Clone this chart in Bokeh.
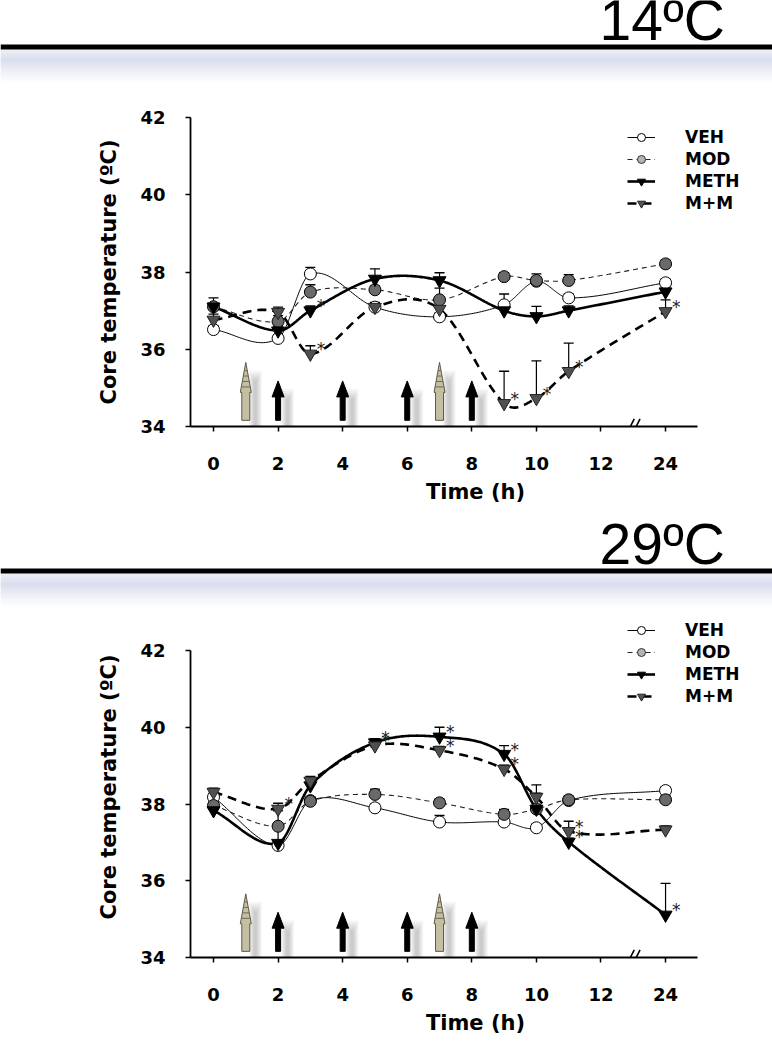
import numpy as np
from bokeh.plotting import figure
from bokeh.layouts import column, row
from bokeh.models import FixedTicker, Legend, LegendItem, Arrow
from bokeh.core.properties import value
from bokeh.embed import file_html
from bokeh.resources import INLINE

# ---------------- data ----------------
times = [0, 2, 3, 5, 7, 9, 10, 11, 24]
tick_times = [0, 2, 4, 6, 8, 10, 12, 24]
inj_tan = [1, 7]          # light arrows
inj_black = [2, 4, 6, 8]  # dark arrows

# 14 ºC
veh_14 = [36.51, 36.28, 37.95, 37.09, 36.84, 37.15, 37.76, 37.33, 37.72]
mod_14 = [37.10, 36.72, 37.48, 37.54, 37.28, 37.88, 37.78, 37.78, 38.21]
meth_14 = [37.10, 36.48, 37.00, 37.82, 37.78, 37.00, 36.85, 37.00, 37.49]
mm_14 = [36.76, 36.96, 35.88, 37.09, 37.04, 34.60, 34.73, 35.43, 36.98]
veh_14_err = [0.10, 0.10, 0.17, 0.10, 0.10, 0.28, 0.10, 0.10, 0.10]
mod_14_err = [0.10, 0.15, 0.19, 0.10, 0.30, 0.10, 0.17, 0.15, 0.10]
meth_14_err = [0.23, 0.12, 0.12, 0.26, 0.20, 0.12, 0.26, 0.12, 0.12]
mm_14_err = [0.15, 0.13, 0.21, 0.12, 0.20, 0.83, 0.97, 0.73, 0.30]
sig_meth_14 = [3]
sig_mm_14 = [3, 9, 10, 11, 24]

# 29 ºC
veh_29 = [38.18, 36.92, 38.09, 37.90, 37.53, 37.53, 37.38, 38.09, 38.35]
mod_29 = [37.96, 37.42, 38.07, 38.25, 38.03, 37.73, 37.87, 38.11, 38.11]
meth_29 = [37.83, 36.98, 38.48, 39.60, 39.75, 39.30, 37.87, 37.01, 35.11]
mm_29 = [38.31, 37.87, 38.60, 39.52, 39.40, 38.91, 38.18, 37.29, 37.33]
veh_29_err = [0.10, 0.08, 0.10, 0.10, 0.17, 0.10, 0.10, 0.10, 0.10]
mod_29_err = [0.10, 0.40, 0.10, 0.14, 0.10, 0.13, 0.10, 0.10, 0.10]
meth_29_err = [0.10, 0.45, 0.15, 0.10, 0.25, 0.22, 0.63, 0.10, 0.82]
mm_29_err = [0.10, 0.15, 0.12, 0.08, 0.10, 0.10, 0.10, 0.26, 0.10]
sig_meth_29 = [5, 7, 9, 11, 24]
sig_mm_29 = [2, 5, 7, 9, 11]

series_names = ["VEH", "MOD", "METH", "M+M"]

# ---------------- helpers ----------------
W = 772
FRAME_L = 190
FRAME_R = 12
FRAME_W = W - FRAME_L - FRAME_R
PX_PER_H = 32.29
X0 = -23 / PX_PER_H
X1 = X0 + FRAME_W / PX_PER_H
X_AXIS_END = 14.99
FONT = "DejaVu Sans"
ROW_H = 20
ROW_GAP = 2
HEAD_FS = 57


def axpos(t):
    # broken time axis: 24 h is drawn two ticks after 12 h
    return t if t <= 12 else 14


def smooth(xs, ys, n=40):
    # cardinal (Catmull-Rom type) Hermite curve through the points
    xs = np.asarray(xs, float)
    ys = np.asarray(ys, float)
    k = len(xs)
    m = np.zeros(k)
    m[0] = (ys[1] - ys[0]) / (xs[1] - xs[0])
    m[-1] = (ys[-1] - ys[-2]) / (xs[-1] - xs[-2])
    for i in range(1, k - 1):
        m[i] = (ys[i + 1] - ys[i - 1]) / (xs[i + 1] - xs[i - 1])
    ox, oy = [], []
    for i in range(k - 1):
        hh = xs[i + 1] - xs[i]
        t = np.linspace(0, 1, n, endpoint=(i == k - 2))
        h00 = 2 * t ** 3 - 3 * t ** 2 + 1
        h10 = t ** 3 - 2 * t ** 2 + t
        h01 = -2 * t ** 3 + 3 * t ** 2
        h11 = t ** 3 - t ** 2
        y = h00 * ys[i] + h10 * hh * m[i] + h01 * ys[i + 1] + h11 * hh * m[i + 1]
        ox.extend((xs[i] + t * hh).tolist())
        oy.extend(y.tolist())
    return ox, oy


def make_header(h, label, base_from_top):
    p = figure(width=W, height=h, x_range=(0, W), y_range=(0, h),
               output_backend="svg", toolbar_location=None, min_border=0,
               x_axis_location=None, y_axis_location=None)
    p.grid.visible = False
    p.outline_line_color = None
    y_line_top = h - base_from_top
    band = 35
    base = np.array([0xCD, 0xD2, 0xE7], float)
    tops, bots, cols = [], [], []
    for i in range(band):
        t = i / (band - 1)
        if t < 0.3:
            a = 0.55 + 0.45 * t / 0.3
        else:
            a = 1.0 - (t - 0.3) / 0.7
        a = max(0.0, min(1.0, a)) ** 1.2
        c = 255 - (255 - base) * a
        cols.append("#%02x%02x%02x" % tuple(int(round(v)) for v in c))
        tops.append(y_line_top - 5 - i)
        bots.append(y_line_top - 5 - i - 1)
    p.quad(left=0, right=W, top=tops, bottom=bots, fill_color=cols, line_color=None)
    p.quad(left=[0], right=[W], top=[y_line_top], bottom=[y_line_top - 5],
           fill_color="black", line_color=None)
    # text anchor compensated for the renderer's baseline placement
    p.text(x=[599], y=[y_line_top + 0.43 * HEAD_FS], text=[label],
           text_font=value("Liberation Sans"), text_font_size=f"{HEAD_FS}px",
           text_baseline="alphabetic", text_align="left", text_color="black")
    return p


def draw_arrow(p, x, tip, base, shaft_px, head_w_px, head_len_px, fill, line, ppx, ppy):
    hw = shaft_px / 2 / ppx
    Hw = head_w_px / 2 / ppx
    hl = head_len_px / ppy
    xs = [x - hw, x - hw, x - Hw, x, x + Hw, x + hw, x + hw]
    ys = [base, tip - hl, tip - hl, tip, tip - hl, tip - hl, base]
    p.patch(xs, ys, fill_color=fill, line_color=line, line_width=1)
    return hl


def make_chart(h, frame_top_local, y42_local, y34_local, data, errs, sig_meth, sig_mm,
               legend_top_local):
    ppy = (y34_local - y42_local) / 8.0
    y_top = 42 + (y42_local - frame_top_local) / ppy
    frame_h = y34_local - frame_top_local
    bottom_b = h - y34_local
    p = figure(width=W, height=h, x_range=(X0, X1), y_range=(34, y_top),
               output_backend="svg", toolbar_location=None,
               min_border_left=FRAME_L, min_border_right=FRAME_R,
               min_border_top=frame_top_local, min_border_bottom=bottom_b)
    p.grid.visible = False
    p.outline_line_color = None
    ppx = PX_PER_H

    p.xaxis.ticker = FixedTicker(ticks=[axpos(t) for t in tick_times])
    p.xaxis.major_label_overrides = {axpos(t): str(t) for t in tick_times}
    p.xaxis.bounds = (X0, X_AXIS_END)
    p.yaxis.ticker = FixedTicker(ticks=[34, 36, 38, 40, 42])
    p.yaxis.bounds = (34, 42)
    for ax in (p.xaxis[0], p.yaxis[0]):
        ax.axis_line_width = 1.8
        ax.axis_line_color = "black"
        ax.major_tick_line_width = 1.5
        ax.major_tick_out = 5
        ax.major_tick_in = 0
        ax.minor_tick_line_color = None
        ax.major_label_text_font = FONT
        ax.major_label_text_font_style = "bold"
        ax.major_label_text_font_size = "18px"
        ax.major_label_text_color = "black"
        ax.axis_label_text_font = FONT
        ax.axis_label_text_font_style = "bold"
        ax.axis_label_text_font_size = "21px"
        ax.axis_label_text_color = "black"
    p.yaxis.axis_label = "Core temperature (ºC)"
    p.xaxis.axis_label = "Time (h)"
    p.yaxis.major_label_standoff = 20
    p.yaxis.axis_label_standoff = 16
    p.xaxis.major_label_standoff = 25
    p.xaxis.axis_label_standoff = 7

    # axis break marks
    for dx in (-0.09, 0.09):
        p.add_layout(Arrow(x_start=13 + dx - 0.12, y_start=34 - 0.2,
                           x_end=13 + dx + 0.12, y_end=34 + 0.2,
                           start=None, end=None, line_width=1.6, line_color="black"))

    # injection arrows with soft shadows
    tan_tip, black_tip, base = 35.66, 35.18, 34.16
    for xs_, tip in ((inj_tan, tan_tip), (inj_black, black_tip)):
        for x in xs_:
            for k in range(6):
                p.quad(left=[x + (3 + k) / ppx], right=[x + (16 - k) / ppx], bottom=[34.0],
                       top=[tip - (8 + 2 * k) / ppy], fill_color="black", fill_alpha=0.035,
                       line_color=None)
    for x in inj_tan:
        hl = draw_arrow(p, x, tan_tip, base, 8, 11, 30, "#c3bfa2", "#5d5a45", ppx, ppy)
        for j in range(1, 5):
            yy = tan_tip - hl + j * hl / 5.5
            half = (5.5 / ppx) * (1 - j / 5.5)
            p.segment(x0=[x - half], y0=[yy], x1=[x + half], y1=[yy],
                      line_color="#6d6a55", line_width=1)
    for x in inj_black:
        draw_arrow(p, x, black_tip, base, 5, 12, 16, "black", "black", ppx, ppy)

    xp = [axpos(t) for t in times]
    veh, mod, meth, mm = data
    styles = [
        dict(line_color="black", line_width=1, line_dash="solid"),
        dict(line_color="#222222", line_width=1.1, line_dash="5 4"),
        dict(line_color="black", line_width=2.6, line_dash="solid"),
        dict(line_color="black", line_width=2.6, line_dash="9 6"),
    ]
    markers = [
        dict(marker="circle", size=12, fill_color="white", line_color="black", line_width=1),
        dict(marker="circle", size=12, fill_color="#6a6a6a", line_color="black", line_width=1),
        dict(marker="inverted_triangle", size=13, fill_color="black", line_color="black", line_width=1),
        dict(marker="inverted_triangle", size=13, fill_color="#505050", line_color="#222222", line_width=1),
    ]
    for ys, es in zip(data, errs):
        tops = [y + e for y, e in zip(ys, es)]
        p.segment(x0=xp, y0=ys, x1=xp, y1=tops, line_color="black", line_width=1.2)
        p.scatter(x=xp, y=tops, marker="dash", size=10, line_color="black", line_width=1.3)
    for ys, st in zip(data, styles):
        sx, sy = smooth(xp, ys)
        p.line(sx, sy, **st)
    for ys, mk in zip(data, markers):
        p.scatter(x=xp, y=ys, **mk)

    sx, sy = [], []
    for ser, sig in ((meth, sig_meth), (mm, sig_mm)):
        for t in sig:
            i = times.index(t)
            sx.append(axpos(t) + 0.33)
            sy.append(ser[i] + 0.12)
    p.text(x=sx, y=sy, text=["*"] * len(sx), text_font=value(FONT), text_font_size="17px",
           text_color="#222222", text_align="center", text_baseline="middle")

    leg_mk = [
        dict(marker="circle", size=12, fill_color="white", line_color="black", line_width=1),
        dict(marker="circle", size=12, fill_color="#b4b4b4", line_color="#333333", line_width=1),
        dict(marker="inverted_triangle", size=13, fill_color="black", line_color="black", line_width=1),
        dict(marker="inverted_triangle", size=13, fill_color="#555555", line_color="#222222", line_width=1),
    ]
    items = []
    for name, st, mk in zip(series_names, styles, leg_mk):
        lr = p.line([np.nan, np.nan], [np.nan, np.nan], **st)
        sr = p.scatter([np.nan], [np.nan], **mk)
        items.append(LegendItem(label=name, renderers=[lr, sr]))
    rows_h = 4 * ROW_H + 3 * ROW_GAP
    leg_bottom = frame_h - (legend_top_local - frame_top_local) - rows_h
    legend = Legend(items=items, location=(437, leg_bottom),
                    glyph_width=28, glyph_height=ROW_H, label_height=ROW_H, spacing=ROW_GAP,
                    padding=0, margin=0, label_standoff=30,
                    background_fill_alpha=0, border_line_color=None,
                    label_text_font=FONT, label_text_font_style="bold",
                    label_text_font_size="17px", label_text_color="black")
    p.add_layout(legend)
    return p


# header 1: page y 0..90, chart 1: 90..508, header 2: 508..612, chart 2: 612..1048
h1 = make_header(90, "14ºC", 44)
c1 = make_chart(418, 27, 27, 336, [veh_14, mod_14, meth_14, mm_14],
                [veh_14_err, mod_14_err, meth_14_err, mm_14_err],
                sig_meth_14, sig_mm_14, 37)
h2 = make_header(104, "29ºC", 60)
c2 = make_chart(436, 4, 38, 345, [veh_29, mod_29, meth_29, mm_29],
                [veh_29_err, mod_29_err, meth_29_err, mm_29_err],
                sig_meth_29, sig_mm_29, 8)

layout = column(row(h1), c1, row(h2), c2, spacing=0)
open("out.html", "w").write(file_html(layout, INLINE))
